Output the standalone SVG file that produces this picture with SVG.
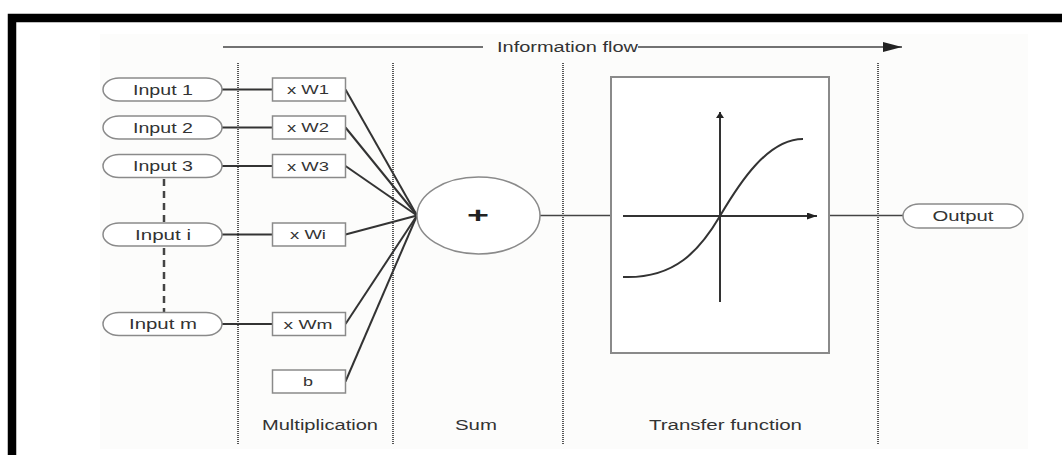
<svg xmlns="http://www.w3.org/2000/svg" width="1062" height="455" viewBox="0 0 1062 455">
  <defs>
    <style>
      .lbl { font-family: "Liberation Sans", Arial, sans-serif; font-size: 14px; fill: #333; text-anchor: middle; }
      .wlbl { font-family: "Liberation Sans", Arial, sans-serif; font-size: 13px; fill: #333; text-anchor: middle; }
      .pill { fill: #fff; stroke: #8a8a8a; stroke-width: 1.5; }
      .box { fill: #fff; stroke: #8a8a8a; stroke-width: 1.5; }
      .wire { stroke: #333; stroke-width: 2; fill: none; }
      .thin { stroke: #444; stroke-width: 1.5; fill: none; }
      .sep { stroke: #555; stroke-width: 2; stroke-dasharray: 1 1; fill: none; }
      .skip { stroke: #444; stroke-width: 2.5; stroke-dasharray: 7 5; fill: none; }
    </style>
    <marker id="head" viewBox="0 0 10 10" refX="10" refY="5" markerWidth="19" markerHeight="10" markerUnits="userSpaceOnUse" orient="auto" preserveAspectRatio="none">
      <path d="M0,0 L10,5 L0,10 Z" fill="#222"/>
    </marker>
    <marker id="axisX" viewBox="0 0 10 10" refX="10" refY="5" markerWidth="10" markerHeight="7" markerUnits="userSpaceOnUse" orient="auto" preserveAspectRatio="none">
      <path d="M0,0 L10,5 L0,10 Z" fill="#222"/>
    </marker>
    <marker id="axisY" viewBox="0 0 10 10" refX="10" refY="5" markerWidth="6" markerHeight="8" markerUnits="userSpaceOnUse" orient="auto" preserveAspectRatio="none">
      <path d="M0,0 L10,5 L0,10 Z" fill="#222"/>
    </marker>
  </defs>

  <!-- page -->
  <rect x="0" y="0" width="1062" height="455" fill="#fff"/>
  <rect x="100" y="34" width="928" height="415" fill="#fcfcfb"/>
  <path d="M12,455 V18 H1062" fill="none" stroke="#000" stroke-width="8.5" stroke-linejoin="miter"/>

  <!-- stage separators -->
  <g id="separators">
    <line class="sep" x1="238" y1="63" x2="238" y2="445"/>
    <line class="sep" x1="393" y1="63" x2="393" y2="445"/>
    <line class="sep" x1="563" y1="63" x2="563" y2="445"/>
    <line class="sep" x1="878" y1="63" x2="878" y2="445"/>
  </g>

  <!-- information flow arrow -->
  <g id="flow">
    <line class="thin" x1="223" y1="47" x2="483" y2="47"/>
    <line class="thin" x1="638" y1="47" x2="902" y2="47" marker-end="url(#head)"/>
    <text class="lbl" x="567.5" y="52" textLength="141" lengthAdjust="spacingAndGlyphs">Information flow</text>
  </g>

  <!-- connectors -->
  <g id="connectors">
    <line class="wire" x1="222" y1="89.5" x2="272.5" y2="89.5"/>
    <line class="wire" x1="222" y1="127.5" x2="272.5" y2="127.5"/>
    <line class="wire" x1="222" y1="166" x2="272.5" y2="166"/>
    <line class="wire" x1="222" y1="234.5" x2="272.5" y2="234.5"/>
    <line class="wire" x1="222" y1="324" x2="272.5" y2="324"/>
    <line class="skip" x1="164" y1="179" x2="164" y2="223"/>
    <line class="skip" x1="164" y1="248" x2="164" y2="313"/>
    <line class="wire" x1="345.5" y1="89.5" x2="417" y2="215.5"/>
    <line class="wire" x1="345.5" y1="127.5" x2="417" y2="215.5"/>
    <line class="wire" x1="345.5" y1="166" x2="417" y2="215.5"/>
    <line class="wire" x1="345.5" y1="234.5" x2="417" y2="215.5"/>
    <line class="wire" x1="345.5" y1="324" x2="417" y2="215.5"/>
    <line class="wire" x1="345.5" y1="381.5" x2="417" y2="215.5"/>
    <line class="thin" x1="540" y1="215.5" x2="611" y2="215.5"/>
    <line class="thin" x1="829" y1="215.5" x2="903" y2="215.5"/>
  </g>

  <!-- inputs -->
  <g id="input1"><rect class="pill" x="103" y="78" width="119" height="23" rx="16" ry="11.5"/><text class="lbl" x="163" y="94.5" textLength="60" lengthAdjust="spacingAndGlyphs">Input 1</text></g>
  <g id="input2"><rect class="pill" x="103" y="116" width="119" height="23" rx="16" ry="11.5"/><text class="lbl" x="163" y="132.5" textLength="60" lengthAdjust="spacingAndGlyphs">Input 2</text></g>
  <g id="input3"><rect class="pill" x="103" y="154.5" width="119" height="23" rx="16" ry="11.5"/><text class="lbl" x="163" y="171" textLength="60" lengthAdjust="spacingAndGlyphs">Input 3</text></g>
  <g id="inputi"><rect class="pill" x="103" y="223" width="119" height="23" rx="16" ry="11.5"/><text class="lbl" x="163" y="239.5" textLength="56" lengthAdjust="spacingAndGlyphs">Input i</text></g>
  <g id="inputm"><rect class="pill" x="103" y="312.5" width="119" height="23" rx="16" ry="11.5"/><text class="lbl" x="163" y="329" textLength="68" lengthAdjust="spacingAndGlyphs">Input m</text></g>

  <!-- weights -->
  <g id="w1"><rect class="box" x="272.5" y="78" width="73" height="23"/><text class="wlbl" x="308" y="94" textLength="42" lengthAdjust="spacingAndGlyphs">x W1</text></g>
  <g id="w2"><rect class="box" x="272.5" y="116" width="73" height="23"/><text class="wlbl" x="308" y="132" textLength="42" lengthAdjust="spacingAndGlyphs">x W2</text></g>
  <g id="w3"><rect class="box" x="272.5" y="154.5" width="73" height="23"/><text class="wlbl" x="308" y="170.5" textLength="42" lengthAdjust="spacingAndGlyphs">x W3</text></g>
  <g id="wi"><rect class="box" x="272.5" y="223" width="73" height="23"/><text class="wlbl" x="308" y="239" textLength="36" lengthAdjust="spacingAndGlyphs">x Wi</text></g>
  <g id="wm"><rect class="box" x="272.5" y="312.5" width="73" height="23"/><text class="wlbl" x="308" y="328.5" textLength="49" lengthAdjust="spacingAndGlyphs">x Wm</text></g>
  <g id="bias"><rect class="box" x="272.5" y="370" width="73" height="23"/><text class="wlbl" x="308" y="386" textLength="10" lengthAdjust="spacingAndGlyphs">b</text></g>

  <!-- summation -->
  <g id="sum">
    <ellipse cx="478.5" cy="215.5" rx="61.5" ry="38.5" fill="#fff" stroke="#8a8a8a" stroke-width="1.5"/>
    <text x="478" y="223" font-family="Liberation Sans, Arial, sans-serif" font-size="22" font-weight="bold" fill="#222" text-anchor="middle" textLength="22" lengthAdjust="spacingAndGlyphs">+</text>
  </g>

  <!-- transfer function -->
  <g id="transfer">
    <rect x="611" y="77" width="218" height="276" fill="#fff" stroke="#8a8a8a" stroke-width="2"/>
    <line class="wire" x1="623" y1="216" x2="817" y2="216" marker-end="url(#axisX)"/>
    <line class="wire" x1="720" y1="302" x2="720" y2="112" marker-end="url(#axisY)"/>
    <path class="wire" d="M623,277 C675,279 700,250 720,216 S768,139 803,139"/>
  </g>

  <!-- output -->
  <g id="output"><rect class="pill" x="903" y="204" width="120" height="24" rx="16" ry="12"/><text class="lbl" x="963" y="221" textLength="61" lengthAdjust="spacingAndGlyphs">Output</text></g>

  <!-- stage captions -->
  <g id="captions">
    <text class="lbl" x="320" y="430" textLength="116" lengthAdjust="spacingAndGlyphs">Multiplication</text>
    <text class="lbl" x="476" y="430" textLength="42" lengthAdjust="spacingAndGlyphs">Sum</text>
    <text class="lbl" x="725.5" y="430" textLength="153" lengthAdjust="spacingAndGlyphs">Transfer function</text>
  </g>
</svg>
